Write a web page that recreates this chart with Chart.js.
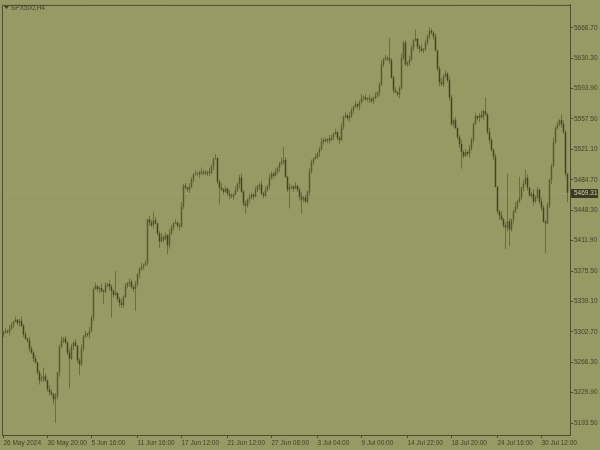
<!DOCTYPE html>
<html>
<head>
<meta charset="utf-8">
<script src="https://cdn.jsdelivr.net/npm/chart.js@4.4.1/dist/chart.umd.min.js"></script>
<style>
body { margin: 0; background: #999966; }
canvas { display: block; }
</style>
</head>
<body>
<canvas id="chart" width="600" height="450"></canvas>
<script>
const symbol = 'SPX500,H4';

//H4 bars (one bar every 2px)
const opens = [5299.5,5301.7,5304.0,5302.8,5306.4,5311.2,5314.7,5317.1,5313.5,5315.9,
5310.0,5299.3,5294.5,5292.1,5282.6,5277.9,5270.7,5266.0,5254.1,5244.6,
5245.8,5249.3,5244.6,5233.9,5230.3,5227.9,5222.0,5225.6,5254.1,5285.0,
5292.1,5294.5,5289.8,5277.9,5270.7,5285.0,5289.8,5286.2,5268.4,5263.6,
5282.6,5296.9,5300.5,5299.3,5304.0,5319.5,5354.0,5357.5,5354.0,5355.2,
5351.6,5350.4,5358.7,5359.9,5356.4,5351.6,5346.8,5349.2,5342.1,5337.3,
5334.9,5344.5,5357.5,5361.1,5362.3,5356.4,5354.0,5359.9,5371.8,5377.8,
5380.1,5382.5,5384.9,5437.2,5433.6,5430.1,5436.0,5432.4,5420.6,5411.0,
5415.8,5413.4,5418.2,5406.3,5420.6,5427.7,5432.4,5433.6,5430.1,5428.9,
5452.7,5477.6,5475.3,5472.9,5476.4,5484.8,5490.7,5491.9,5493.1,5491.9,
5494.3,5493.1,5491.9,5494.3,5493.1,5500.2,5509.7,5510.9,5482.4,5475.3,
5472.9,5470.5,5474.1,5468.1,5465.7,5464.5,5466.9,5472.9,5480.0,5487.1,
5470.5,5456.2,5453.8,5461.0,5463.4,5466.9,5464.5,5472.9,5477.6,5478.8,
5468.1,5465.7,5472.9,5477.6,5487.1,5491.9,5489.5,5494.3,5499.0,5503.8,
5506.2,5508.5,5488.3,5472.9,5475.3,5476.4,5474.1,5477.6,5472.9,5464.5,
5461.0,5463.4,5458.6,5470.5,5494.3,5506.2,5509.7,5512.1,5516.9,5521.6,
5529.9,5532.3,5531.1,5533.5,5532.3,5535.9,5539.5,5541.8,5534.7,5532.3,
5547.8,5559.7,5562.0,5558.5,5560.9,5568.0,5571.6,5575.1,5572.7,5577.5,
5582.3,5583.4,5581.1,5582.3,5581.1,5578.7,5582.3,5585.8,5589.4,5598.9,
5622.7,5628.6,5631.0,5629.8,5627.4,5607.2,5591.8,5589.4,5587.0,5594.2,
5631.0,5648.8,5622.7,5625.1,5628.6,5642.9,5651.2,5653.6,5644.1,5641.7,
5639.3,5640.5,5648.8,5657.2,5663.1,5660.7,5656.0,5639.3,5617.9,5601.3,
5598.9,5608.4,5612.0,5603.7,5583.4,5551.3,5556.1,5546.6,5535.9,5527.6,
5518.1,5513.3,5518.1,5515.7,5521.6,5532.3,5551.3,5560.9,5558.5,5562.0,
5559.7,5566.8,5563.2,5541.8,5532.3,5520.4,5512.1,5476.4,5446.7,5442.0,
5437.2,5430.1,5427.7,5434.8,5425.3,5437.2,5446.7,5452.7,5458.6,5463.4,
5475.3,5480.0,5487.1,5475.3,5465.7,5468.1,5458.6,5463.4,5472.9,5458.6,
5451.5,5434.8,5432.4,5453.8,5484.8,5501.4,5529.9,5546.6,5551.3,5556.1,
5551.3,5541.8,5491.9];

const highs = [5303.8,5307.4,5305.2,5311.0,5314.0,5316.4,5321.0,5318.0,5318.4,5321.1,
5312.1,5302.7,5295.7,5296.7,5285.4,5279.6,5274.6,5266.9,5256.6,5251.0,
5260.0,5252.7,5245.8,5238.5,5233.1,5229.6,5229.5,5255.0,5287.5,5297.3,
5296.6,5297.9,5291.0,5282.5,5287.8,5291.5,5293.7,5287.1,5270.9,5287.8,
5299.0,5303.9,5301.7,5308.6,5322.3,5355.7,5361.4,5358.4,5357.7,5360.4,
5353.7,5362.1,5361.1,5364.5,5359.2,5353.3,5375.4,5350.1,5344.6,5342.5,
5346.6,5360.9,5362.3,5366.9,5365.1,5358.1,5363.8,5372.7,5380.3,5385.3,
5384.6,5388.3,5438.4,5441.8,5436.4,5446.7,5439.9,5433.3,5423.1,5421.0,
5417.9,5421.6,5419.4,5425.2,5430.5,5434.1,5437.5,5434.5,5432.6,5457.9,
5479.7,5481.0,5476.5,5481.0,5487.6,5492.4,5495.8,5494.0,5495.6,5499.5,
5496.4,5496.5,5495.5,5498.9,5503.0,5511.4,5515.7,5511.8,5484.9,5480.5,
5475.0,5477.5,5475.3,5472.7,5468.5,5468.6,5476.8,5480.9,5490.7,5492.3,
5472.6,5459.6,5462.2,5468.0,5469.7,5468.6,5476.8,5478.5,5481.3,5484.0,
5470.2,5476.3,5478.8,5491.7,5494.7,5493.6,5498.2,5499.9,5506.3,5511.4,
5524.0,5511.9,5489.5,5479.9,5479.2,5478.1,5481.5,5478.5,5475.4,5469.7,
5465.5,5466.8,5471.7,5498.9,5509.0,5511.4,5516.0,5517.8,5524.1,5535.1,
5534.4,5535.7,5534.7,5538.1,5538.7,5541.2,5545.7,5542.7,5537.2,5553.0,
5561.8,5565.4,5563.2,5565.5,5570.8,5573.3,5579.0,5576.0,5580.0,5587.5,
5585.5,5586.8,5583.5,5586.9,5583.9,5584.0,5589.7,5590.3,5601.4,5627.9,
5630.7,5634.4,5632.2,5654.8,5630.2,5608.9,5595.7,5590.3,5596.7,5636.2,
5650.9,5652.2,5626.3,5633.2,5645.7,5652.9,5664.5,5654.5,5646.6,5646.9,
5642.6,5652.2,5658.4,5667.4,5665.9,5662.4,5659.9,5640.2,5620.4,5606.5,
5610.5,5615.4,5613.2,5608.3,5586.2,5557.8,5560.0,5547.5,5538.4,5532.8,
5520.2,5521.5,5519.3,5526.2,5535.1,5553.0,5564.8,5561.8,5564.5,5567.2,
5568.9,5583.4,5564.4,5546.4,5535.1,5522.1,5516.0,5477.3,5449.2,5447.2,
5439.3,5433.5,5491.9,5438.7,5438.1,5449.2,5457.9,5460.7,5488.3,5476.5,
5484.6,5496.6,5491.0,5476.2,5470.6,5473.3,5465.5,5476.3,5474.1,5463.2,
5454.3,5436.5,5457.7,5485.7,5503.9,5535.1,5548.7,5554.7,5557.3,5563.2,
5556.1,5544.3,5492.8];

const lows = [5296.4,5300.3,5300.2,5298.6,5304.5,5307.5,5313.9,5310.6,5308.5,5308.4,
5296.2,5293.1,5289.5,5278.4,5276.0,5267.0,5265.2,5251.2,5239.6,5243.0,
5242.7,5243.2,5231.3,5226.1,5226.0,5215.3,5193.5,5222.7,5249.1,5283.4,
5289.0,5288.4,5275.3,5235.0,5268.8,5281.3,5285.4,5265.5,5250.6,5262.0,
5279.5,5295.5,5296.7,5295.1,5302.1,5315.8,5353.2,5351.1,5349.0,5350.0,
5336.1,5349.0,5356.1,5352.2,5319.5,5343.1,5346.0,5339.2,5332.3,5331.5,
5331.8,5343.1,5354.9,5356.9,5354.5,5350.3,5327.8,5357.0,5366.8,5376.2,
5377.0,5381.1,5382.3,5429.4,5428.2,5426.4,5431.6,5417.7,5402.7,5409.4,
5410.3,5412.0,5395.6,5402.1,5418.7,5424.0,5431.6,5427.2,5423.9,5427.3,
5449.6,5473.9,5470.3,5468.7,5474.5,5481.1,5489.9,5489.0,5486.9,5490.3,
5490.0,5490.5,5489.3,5488.9,5491.2,5496.5,5508.9,5479.5,5455.0,5471.3,
5467.4,5469.1,5465.5,5461.5,5462.6,5460.8,5466.1,5470.0,5475.0,5468.9,
5453.1,5444.3,5451.2,5456.8,5461.5,5460.8,5463.7,5470.0,5472.6,5466.5,
5462.6,5464.3,5470.3,5473.4,5485.2,5485.8,5488.7,5491.4,5494.0,5502.2,
5503.1,5486.9,5470.3,5450.3,5473.4,5470.4,5473.3,5470.0,5459.5,5444.3,
5457.9,5457.2,5456.0,5466.3,5492.4,5502.5,5508.9,5509.2,5511.9,5520.0,
5526.8,5529.7,5528.5,5528.1,5530.4,5532.2,5538.7,5531.8,5527.3,5530.7,
5544.7,5558.3,5555.9,5554.3,5559.0,5564.3,5570.8,5569.8,5567.7,5575.9,
5579.2,5579.7,5578.5,5576.9,5576.8,5575.0,5581.5,5582.9,5584.4,5597.3,
5619.6,5627.2,5627.2,5623.2,5605.3,5588.1,5588.6,5584.1,5582.0,5592.6,
5627.9,5621.3,5620.1,5620.9,5626.7,5639.2,5650.4,5641.2,5636.7,5637.7,
5636.2,5639.1,5646.2,5653.0,5658.8,5652.3,5638.5,5615.0,5596.3,5597.3,
5595.8,5607.0,5601.1,5579.2,5549.4,5547.6,5545.8,5533.0,5522.6,5497.8,
5510.2,5511.9,5513.1,5511.5,5519.7,5528.6,5550.5,5555.6,5553.5,5558.1,
5556.6,5561.8,5539.2,5528.1,5518.5,5508.4,5475.6,5443.8,5437.0,5435.6,
5427.0,5401.5,5423.0,5405.1,5422.4,5432.2,5445.1,5449.6,5457.2,5460.8,
5471.1,5478.1,5471.6,5464.9,5462.8,5453.6,5457.0,5462.0,5456.0,5447.3,
5433.0,5396.8,5431.6,5450.9,5479.8,5499.8,5526.8,5545.2,5548.7,5547.1,
5539.9,5488.2,5458.0];

const closes = [5301.7,5304.0,5302.8,5306.4,5311.2,5314.7,5317.1,5313.5,5315.9,5310.0,
5299.3,5294.5,5292.1,5282.6,5277.9,5270.7,5266.0,5254.1,5244.6,5245.8,
5249.3,5244.6,5233.9,5230.3,5227.9,5222.0,5225.6,5254.1,5285.0,5292.1,
5294.5,5289.8,5277.9,5270.7,5285.0,5289.8,5286.2,5268.4,5263.6,5282.6,
5296.9,5300.5,5299.3,5304.0,5319.5,5354.0,5357.5,5354.0,5355.2,5351.6,
5350.4,5358.7,5359.9,5356.4,5351.6,5346.8,5349.2,5342.1,5337.3,5334.9,
5344.5,5357.5,5361.1,5362.3,5356.4,5354.0,5359.9,5371.8,5377.8,5380.1,
5382.5,5384.9,5437.2,5433.6,5430.1,5436.0,5432.4,5420.6,5411.0,5415.8,
5413.4,5418.2,5406.3,5420.6,5427.7,5432.4,5433.6,5430.1,5428.9,5452.7,
5477.6,5475.3,5472.9,5476.4,5484.8,5490.7,5491.9,5493.1,5491.9,5494.3,
5493.1,5491.9,5494.3,5493.1,5500.2,5509.7,5510.9,5482.4,5475.3,5472.9,
5470.5,5474.1,5468.1,5465.7,5464.5,5466.9,5472.9,5480.0,5487.1,5470.5,
5456.2,5453.8,5461.0,5463.4,5466.9,5464.5,5472.9,5477.6,5478.8,5468.1,
5465.7,5472.9,5477.6,5487.1,5491.9,5489.5,5494.3,5499.0,5503.8,5506.2,
5508.5,5488.3,5472.9,5475.3,5476.4,5474.1,5477.6,5472.9,5464.5,5461.0,
5463.4,5458.6,5470.5,5494.3,5506.2,5509.7,5512.1,5516.9,5521.6,5529.9,
5532.3,5531.1,5533.5,5532.3,5535.9,5539.5,5541.8,5534.7,5532.3,5547.8,
5559.7,5562.0,5558.5,5560.9,5568.0,5571.6,5575.1,5572.7,5577.5,5582.3,
5583.4,5581.1,5582.3,5581.1,5578.7,5582.3,5585.8,5589.4,5598.9,5622.7,
5628.6,5631.0,5629.8,5627.4,5607.2,5591.8,5589.4,5587.0,5594.2,5631.0,
5648.8,5622.7,5625.1,5628.6,5642.9,5651.2,5653.6,5644.1,5641.7,5639.3,
5640.5,5648.8,5657.2,5663.1,5660.7,5656.0,5639.3,5617.9,5601.3,5598.9,
5608.4,5612.0,5603.7,5583.4,5551.3,5556.1,5546.6,5535.9,5527.6,5518.1,
5513.3,5518.1,5515.7,5521.6,5532.3,5551.3,5560.9,5558.5,5562.0,5559.7,
5566.8,5563.2,5541.8,5532.3,5520.4,5512.1,5476.4,5446.7,5442.0,5437.2,
5430.1,5427.7,5434.8,5425.3,5437.2,5446.7,5452.7,5458.6,5463.4,5475.3,
5480.0,5487.1,5475.3,5465.7,5468.1,5458.6,5463.4,5472.9,5458.6,5451.5,
5434.8,5432.4,5453.8,5484.8,5501.4,5529.9,5546.6,5551.3,5556.1,5551.3,
5541.8,5491.9,5469.31];

//bar index of each time label on the bottom axis
const timeTicks = [0, 22, 44, 67, 89, 112, 134, 157, 179, 202, 224, 247, 269];
const timeLabels = ['26 May 2024', '30 May 20:00', '5 Jun 16:00', '11 Jun 16:00', '17 Jun 12:00',
    '21 Jun 12:00', '27 Jun 08:00', '3 Jul 04:00', '9 Jul 00:00', '14 Jul 22:00',
    '18 Jul 20:00', '24 Jul 16:00', '30 Jul 12:00'];
const priceTicks = [5193.50, 5229.90, 5266.30, 5302.70, 5339.10, 5375.50, 5411.90,
    5448.30, 5484.70, 5521.10, 5557.50, 5593.90, 5630.30, 5666.70];

const frameColor = '#4e4e32';
const textColor = '#424229';
const wickColor = '#6c6c46';
const bullColor = '#58583a';
const bearColor = '#42422a';
const fontFamily = "'Liberation Sans', Arial, sans-serif";
const fontSize = 6.5;

const lastPrice = closes[closes.length - 1];

const wicks = lows.map((l, i) => ({x: i, y: [l, highs[i]]}));
const bodies = opens.map((o, i) => ({x: i, y: [o, closes[i]]}));
const bodyColors = opens.map((o, i) => closes[i] >= o ? bullColor : bearColor);

//frame, symbol name, bid line and price box, like the terminal draws them
const terminalPlugin = {
    id: 'terminal',
    beforeDatasetsDraw(chart) {
        const {ctx, chartArea, scales} = chart;
        const y = Math.round(scales.y.getPixelForValue(lastPrice)) + 0.5;
        ctx.save();
        ctx.strokeStyle = '#9f9f6d';
        ctx.lineWidth = 1;
        ctx.beginPath();
        ctx.moveTo(chartArea.left, y);
        ctx.lineTo(chartArea.right, y);
        ctx.stroke();
        ctx.restore();
    },
    afterDraw(chart) {
        const {ctx, chartArea, scales} = chart;
        ctx.save();
        ctx.strokeStyle = frameColor;
        ctx.lineWidth = 1;
        ctx.beginPath();
        ctx.moveTo(chartArea.left + 0.5, chartArea.bottom);
        ctx.lineTo(chartArea.left + 0.5, chartArea.top + 0.5);
        ctx.lineTo(chartArea.right, chartArea.top + 0.5);
        ctx.stroke();

        ctx.fillStyle = textColor;
        ctx.beginPath();
        ctx.moveTo(4, 6);
        ctx.lineTo(9, 6);
        ctx.lineTo(6.5, 9);
        ctx.closePath();
        ctx.fill();
        ctx.font = fontSize + 'px ' + fontFamily;
        ctx.textBaseline = 'middle';
        ctx.textAlign = 'left';
        ctx.fillText(symbol, 11, 8);

        const y = Math.round(scales.y.getPixelForValue(lastPrice));
        ctx.fillStyle = '#3b3b24';
        ctx.fillRect(chartArea.right + 1, y - 4, 27, 9);
        ctx.fillStyle = '#cfcfa6';
        ctx.fillText(lastPrice.toFixed(2), chartArea.right + 4, y + 0.5);
        ctx.restore();
    }
};

const ctx = document.querySelector('#chart').getContext('2d');
const chart = new Chart(ctx, {
    type: 'bar',
    data: {
        datasets: [{
            data: bodies,
            backgroundColor: bodyColors,
            barThickness: 1.5,
            grouped: false,
            inflateAmount: 0,
            order: 0
        }, {
            data: wicks,
            backgroundColor: wickColor,
            barThickness: 1,
            grouped: false,
            inflateAmount: 0,
            order: 1
        }]
    },
    options: {
        responsive: false,
        animation: false,
        events: [],
        layout: { padding: { left: 2, top: 2, right: 0, bottom: 0 } },
        plugins: {
            legend: { display: false },
            tooltip: { enabled: false }
        },
        scales: {
            x: {
                type: 'linear',
                min: -0.75,
                max: 283.25,
                offset: false,
                afterBuildTicks: scale => { scale.ticks = timeTicks.map(v => ({value: v})); },
                afterFit: scale => { scale.height = 15; },
                ticks: {
                    callback: (value, index) => timeLabels[index],
                    align: 'start',
                    maxRotation: 0,
                    autoSkip: false,
                    padding: 1,
                    color: textColor,
                    font: { family: fontFamily, size: fontSize }
                },
                grid: { drawOnChartArea: false, offset: false, tickLength: 3, color: frameColor },
                border: { display: true, color: frameColor }
            },
            y: {
                position: 'right',
                min: 5179.23,
                max: 5694.04,
                beginAtZero: false,
                afterBuildTicks: scale => { scale.ticks = priceTicks.map(v => ({value: v})); },
                afterFit: scale => { scale.width = 30; },
                ticks: {
                    callback: value => value.toFixed(2),
                    padding: 1,
                    color: textColor,
                    font: { family: fontFamily, size: fontSize }
                },
                grid: { drawOnChartArea: false, tickLength: 3, color: frameColor },
                border: { display: true, color: frameColor }
            }
        }
    },
    plugins: [terminalPlugin]
});
</script>
</body>
</html>
